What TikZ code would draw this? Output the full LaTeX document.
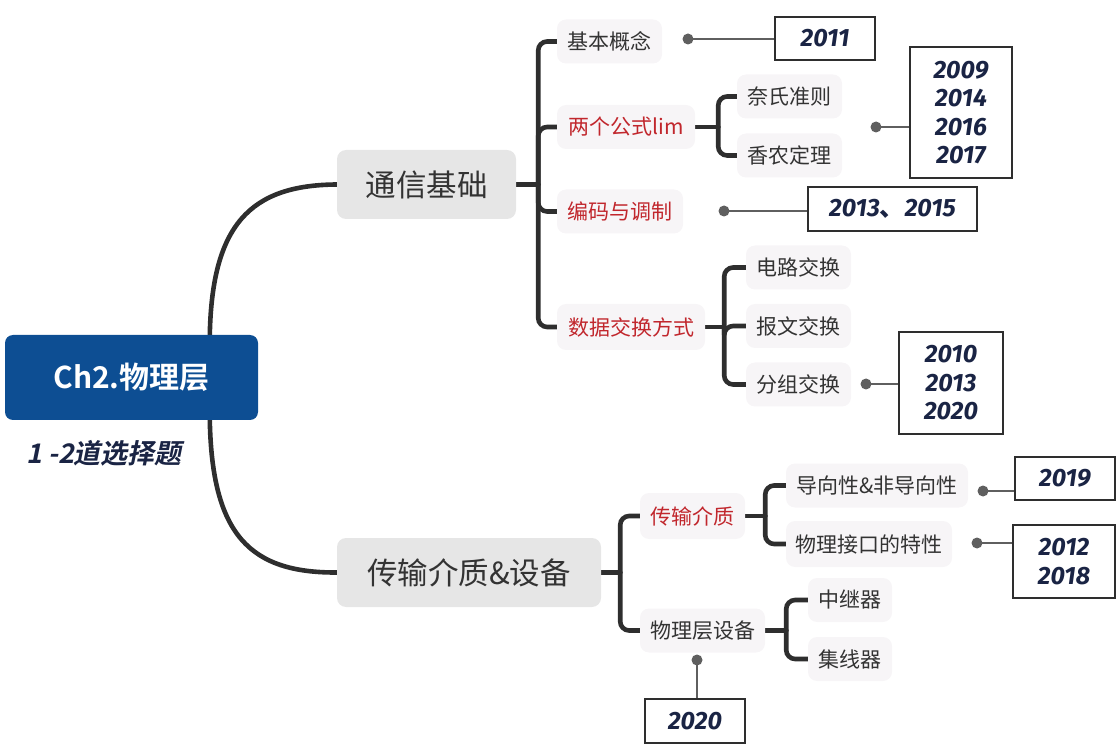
\documentclass[tikz,border=0pt]{standalone}
\usepackage{fontspec}
\setmainfont{Noto Sans CJK SC}
\newfontfamily\cjkbold{Noto Sans CJK SC Bold}
\newfontfamily\cjkslant{Noto Sans CJK SC Bold}[FakeSlant=0.2]
\newfontfamily\yearfont{Fira Sans}
\usetikzlibrary{calc,backgrounds}

\definecolor{rootblue}{HTML}{0D4E93}
\definecolor{lonefill}{HTML}{E6E6E6}
\definecolor{ltwofill}{HTML}{F7F5F7}
\definecolor{txt}{HTML}{333333}
\definecolor{redtxt}{HTML}{C1272D}
\definecolor{navy}{HTML}{1A2444}
\definecolor{linec}{HTML}{2E2E2E}
\definecolor{yearline}{HTML}{5F5F5F}

\tikzset{
  rootbox/.style={fill=rootblue, rounded corners=8pt, text=white, inner sep=0pt,
    font=\cjkbold\fontsize{30}{35}\selectfont},
  lone/.style={fill=lonefill, rounded corners=9pt, text=txt, inner sep=0pt,
    minimum height=69pt, font=\fontsize{30.5}{35}\selectfont},
  ltwo/.style={fill=ltwofill, rounded corners=9pt, text=txt, inner sep=0pt,
    minimum height=44pt, font=\fontsize{21}{24}\selectfont},
  hot/.style={text=redtxt},
  yearbox/.style={draw=linec, line width=1.8pt, fill=white, text=navy, inner sep=0pt,
    align=center, font=\yearfont\bfseries\itshape\fontsize{25}{28.5}\selectfont},
  conn/.style={draw=linec, line width=4.6pt, line cap=round},
  branch/.style={conn, rounded corners=9pt},
  yline/.style={draw=yearline, line width=1.8pt},
  ydot/.style={fill=yearline},
}

\begin{document}
\begin{tikzpicture}[x=1pt, y=-1pt]
\useasboundingbox (0,0) rectangle (1120,751);

% root
\node[rootbox, minimum width=253pt, minimum height=85pt] (root) at (131.5,377.5) {Ch2.物理层};
\node[text=navy, font=\cjkslant\fontsize{27}{30}\selectfont, inner sep=0pt] (sub) at (104,453) {1 -2道选择题};

% first level
\node[lone, minimum width=179pt] (tx) at (426.5,184.5) {通信基础};
\node[lone, minimum width=264pt] (cs) at (469,572.5) {传输介质\&设备};

% second level under 通信基础
\node[ltwo, minimum width=105pt] (jbgn) at (609.5,41.5) {基本概念};
\node[ltwo, hot, minimum width=138pt] (lim) at (626,127) {两个公式lim};
\node[ltwo, hot, minimum width=126pt] (bm) at (620,211.5) {编码与调制};
\node[ltwo, hot, minimum width=148pt, minimum height=46pt] (sj) at (631,327) {数据交换方式};

\node[ltwo, minimum width=105pt] (ns) at (789.5,96.5) {奈氏准则};
\node[ltwo, minimum width=105pt] (xn) at (789.5,155.5) {香农定理};
\node[ltwo, minimum width=105pt] (dl) at (798.5,267.5) {电路交换};
\node[ltwo, minimum width=105pt] (bw) at (798.5,326) {报文交换};
\node[ltwo, minimum width=105pt] (fz) at (798.5,384.5) {分组交换};

% second level under 传输介质&设备
\node[ltwo, hot, minimum width=105pt, minimum height=46pt] (cm) at (692.5,516) {传输介质};
\node[ltwo, minimum width=125pt] (sb) at (702.5,630.5) {物理层设备};
\node[ltwo, minimum width=182pt] (dx) at (877,485.5) {导向性\&非导向性};
\node[ltwo, minimum width=166pt, minimum height=46pt] (wj) at (869,544) {物理接口的特性};
\node[ltwo, minimum width=84pt] (zj) at (850,600) {中继器};
\node[ltwo, minimum width=84pt] (jx) at (850,659) {集线器};

% exam years
\node[yearbox, minimum width=100pt, minimum height=43pt] (y2011) at (825,38.5) {2011};
\node[yearbox, minimum width=102pt, minimum height=131pt] (y2009) at (961,112.5) {2009\\2014\\2016\\2017};
\node[yearbox, minimum width=169pt, minimum height=44pt] (y2013) at (892.5,209) {2013{\cjkbold 、}2015};
\node[yearbox, minimum width=104pt, minimum height=102pt] (y2010) at (951,383) {2010\\2013\\2020};
\node[yearbox, minimum width=100pt, minimum height=43pt] (y2019) at (1065,478.5) {2019};
\node[yearbox, minimum width=102pt, minimum height=73pt] (y2012) at (1064,561.5) {2012\\2018};
\node[yearbox, minimum width=100pt, minimum height=44pt] (y2020) at (695,721) {2020};

% branch junctions
\coordinate (jtx) at ($(tx.east)+(22,0)$);
\coordinate (jlim) at ($(lim.east)+(23,0)$);
\coordinate (jsj) at ($(sj.east)+(19,0)$);
\coordinate (jcs) at ($(cs.east)+(19,0)$);
\coordinate (jcm) at ($(cm.east)+(20,0)$);
\coordinate (jsb) at ($(sb.east)+(21,0)$);

% dots of the year markers
\coordinate (d1) at (688,39);
\coordinate (d2) at (876,127);
\coordinate (d3) at (724,211);
\coordinate (d4) at (866,384);
\coordinate (d5) at (983,491);
\coordinate (d6) at (977,543);
\coordinate (d7) at (697,660);

\begin{scope}[on background layer]
  % root to first level
  \draw[conn] ($(root.north west)+(205,0)$) .. controls (212,225) and (250,185) .. (tx.west);
  \draw[conn] ($(root.south west)+(205,0)$) .. controls (212,535) and (250,573) .. (cs.west);

  % 通信基础
  \draw[conn] (tx.east) -- (jtx);
  \foreach \c in {jbgn,lim,bm,sj} \draw[branch] (jtx) |- (\c.west);
  \draw[conn] (lim.east) -- (jlim);
  \foreach \c in {ns,xn} \draw[branch] (jlim) |- (\c.west);
  \draw[conn] (sj.east) -- (jsj);
  \foreach \c in {dl,bw,fz} \draw[branch] (jsj) |- (\c.west);

  % 传输介质&设备
  \draw[conn] (cs.east) -- (jcs);
  \foreach \c in {cm,sb} \draw[branch] (jcs) |- (\c.west);
  \draw[conn] (cm.east) -- (jcm);
  \foreach \c in {dx,wj} \draw[branch] (jcm) |- (\c.west);
  \draw[conn] (sb.east) -- (jsb);
  \foreach \c in {zj,jx} \draw[branch] (jsb) |- (\c.west);
\end{scope}

% year markers
\draw[yline] (d1) -- (d1 -| y2011.west);
\draw[yline] (d2) -- (d2 -| y2009.west);
\draw[yline] (d3) -- (d3 -| y2013.west);
\draw[yline] (d4) -- (d4 -| y2010.west);
\draw[yline] (d5) -- (d5 -| y2019.west);
\draw[yline] (d6) -- (d6 -| y2012.west);
\draw[yline] (d7) -- (d7 |- y2020.north);
\foreach \d in {d1,d2,d3,d4,d5,d6,d7} \fill[ydot] (\d) circle (5.5pt);
\end{tikzpicture}
\end{document}
